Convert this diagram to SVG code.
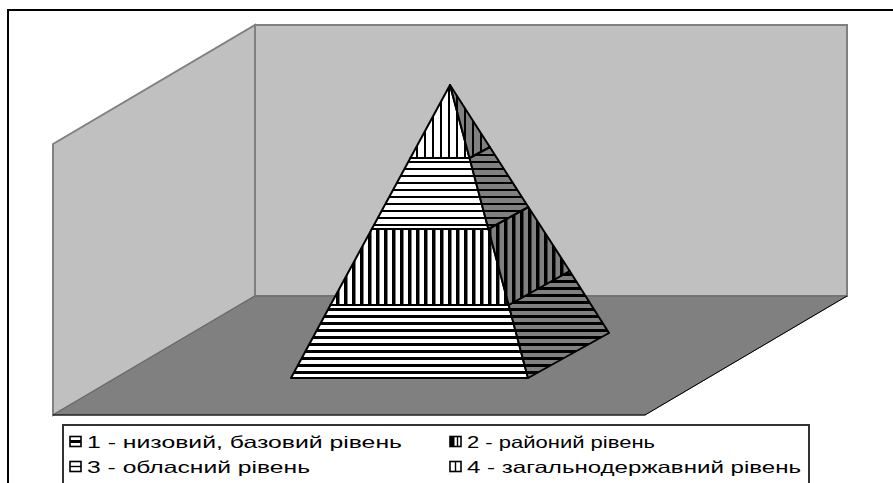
<svg xmlns="http://www.w3.org/2000/svg" width="893" height="483" viewBox="0 0 893 483">
<style>
.lg{font-family:"Liberation Sans",Arial,sans-serif;font-size:16.5px;fill:#000}
.pyr{stroke:#000;stroke-width:2;stroke-linejoin:round}
.ic{fill:#fff;stroke:#000;stroke-width:1.6}
</style>
<defs>
<pattern id="p4f" patternUnits="userSpaceOnUse" width="8" height="8"><rect width="8" height="8" fill="#fff"/><rect x="0" y="0" width="2" height="8" fill="#000"/></pattern>
<pattern id="p3f" patternUnits="userSpaceOnUse" width="8" height="7"><rect width="8" height="7" fill="#fff"/><rect x="0" y="0" width="8" height="2" fill="#000"/></pattern>
<pattern id="p2f" patternUnits="userSpaceOnUse" width="8" height="8"><rect width="8" height="8" fill="#fff"/><rect x="0" y="0" width="3.5" height="8" fill="#000"/></pattern>
<pattern id="p1f" patternUnits="userSpaceOnUse" width="8" height="7"><rect width="8" height="7" fill="#fff"/><rect x="0" y="0" width="8" height="3" fill="#000"/></pattern>
<pattern id="p4r" patternUnits="userSpaceOnUse" width="8" height="8"><rect width="8" height="8" fill="#808080"/><rect x="0" y="0" width="2" height="8" fill="#000"/></pattern>
<pattern id="p3r" patternUnits="userSpaceOnUse" width="8" height="7"><rect width="8" height="7" fill="#808080"/><rect x="0" y="0" width="8" height="2" fill="#000"/></pattern>
<pattern id="p2r" patternUnits="userSpaceOnUse" width="8" height="8"><rect width="8" height="8" fill="#808080"/><rect x="0" y="0" width="3.5" height="8" fill="#000"/></pattern>
<pattern id="p1r" patternUnits="userSpaceOnUse" width="8" height="7"><rect width="8" height="7" fill="#808080"/><rect x="0" y="0" width="8" height="3" fill="#000"/></pattern>
</defs>
<rect width="893" height="483" fill="#fff"/>
<rect x="8" y="10" width="900" height="500" fill="#fff" stroke="#000" stroke-width="2"/>
<g id="walls">
<polygon points="255,25 847,25 847,296 255,296" fill="#c0c0c0" stroke="#808080" stroke-width="2"/>
<polygon points="53,144 255,25 255,296 53,415" fill="#c0c0c0" stroke="#808080" stroke-width="2"/>
<polygon points="53,415 255,296 847,296 645,415" fill="#808080" stroke="#666" stroke-width="1"/>
<polyline points="847,296 645,415 53,415" fill="none" stroke="#000" stroke-width="1"/>
</g>
<g id="pyramid">
<g id="level1">
<polygon class="pyr" points="330.5,305 508.7,305 528,378 291,378" fill="url(#p1f)"/>
<polygon class="pyr" points="508.7,305 569.7,271 609,333 528,378" fill="url(#p1r)"/>
</g>
<g id="level2">
<polygon class="pyr" points="371.8,229 488.4,229 508.7,305 330.5,305" fill="url(#p2f)"/>
<polygon class="pyr" points="488.4,229 528.3,207 569.7,271 508.7,305" fill="url(#p2r)"/>
</g>
<g id="level3">
<polygon class="pyr" points="410.4,158 469.5,158 488.4,229 371.8,229" fill="url(#p3f)"/>
<polygon class="pyr" points="469.5,158 489.8,147 528.3,207 488.4,229" fill="url(#p3r)"/>
</g>
<g id="level4">
<polygon class="pyr" points="450,85 469.5,158 410.4,158" fill="url(#p4f)"/>
<polygon class="pyr" points="450,85 489.8,147 469.5,158" fill="url(#p4r)"/>
</g>
</g>
<g id="legend">
<rect x="63" y="425" width="746" height="80" fill="#fff" stroke="#333" stroke-width="2"/>
<g id="leg1">
<rect class="ic" x="70" y="436.5" width="11" height="10"/>
<rect x="70" y="440" width="11" height="3" fill="#000"/>
<text class="lg" x="87" y="448" textLength="315" lengthAdjust="spacingAndGlyphs">1 - низовий, базовий рівень</text>
</g>
<g id="leg3">
<rect class="ic" x="70" y="461.5" width="11" height="10"/>
<line x1="70" y1="466.5" x2="81" y2="466.5" stroke="#000" stroke-width="1.4"/>
<text class="lg" x="87" y="473" textLength="223" lengthAdjust="spacingAndGlyphs">3 - обласний рівень</text>
</g>
<g id="leg2">
<rect class="ic" x="450" y="436.5" width="11" height="10"/>
<rect x="450" y="436.5" width="4.5" height="10" fill="#000"/>
<line x1="457.5" y1="436.5" x2="457.5" y2="446.5" stroke="#000" stroke-width="1.4"/>
<text class="lg" x="467" y="448" textLength="188" lengthAdjust="spacingAndGlyphs">2 - районий рівень</text>
</g>
<g id="leg4">
<rect class="ic" x="450" y="461.5" width="11" height="10"/>
<line x1="455.5" y1="461.5" x2="455.5" y2="471.5" stroke="#000" stroke-width="1.4"/>
<text class="lg" x="467" y="473" textLength="334" lengthAdjust="spacingAndGlyphs">4 - загальнодержавний рівень</text>
</g>
</g>
</svg>
